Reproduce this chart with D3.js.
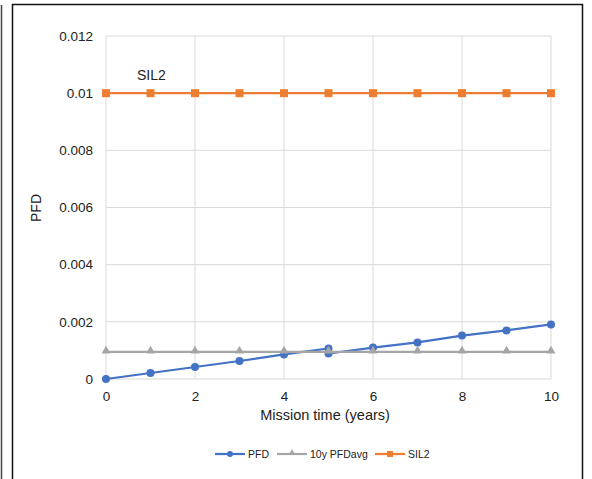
<!DOCTYPE html>
<html><head><meta charset="utf-8">
<script src="https://cdn.jsdelivr.net/npm/d3@7"></script>
<style>body{margin:0;background:#fff}svg{display:block;font-family:"Liberation Sans",Arial,sans-serif}</style>
</head><body><div id="chart"></div>
<script>
const pfdYears = [0,1,2,3,4,5,5,6,7,8,9,10];
const pfdValues = [0,0.00021,0.00042,0.00063,0.00086,0.00107,0.00089,0.0011,0.00128,0.00152,0.0017,0.00191];
const avgYears = [0,1,2,3,4,5,6,7,8,9,10];
const avgValues = [0.00095,0.00095,0.00095,0.00095,0.00095,0.00095,0.00095,0.00095,0.00095,0.00095,0.00095];
const silYears = [0,1,2,3,4,5,6,7,8,9,10];
const silValues = [0.01,0.01,0.01,0.01,0.01,0.01,0.01,0.01,0.01,0.01,0.01];
const xTicks = [0,2,4,6,8,10];
const yTicks = [0,0.002,0.004,0.006,0.008,0.01,0.012];
const seriesNames = ["PFD","10y PFDavg","SIL2"];
const colors = ["#4472C4","#A5A5A5","#ED7D31"];

const W=592,H=479;
const svg=d3.select("#chart").append("svg").attr("width",W).attr("height",H);
svg.append("line").attr("x1",1.5).attr("x2",1.5).attr("y1",5).attr("y2",H).attr("stroke","#444").attr("stroke-width",1.5);
svg.append("rect").attr("x",12.5).attr("y",4.5).attr("width",570).attr("height",H+10).attr("fill","none").attr("stroke","#111").attr("stroke-width",1.5);

const x=d3.scaleLinear().domain([0,10]).range([106,551]);
const y=d3.scaleLinear().domain([0,0.012]).range([379,36]);

const g=svg.append("g");
g.selectAll(".hg").data(yTicks).join("line").attr("x1",x(0)).attr("x2",x(10)).attr("y1",d=>y(d)).attr("y2",d=>y(d)).attr("stroke","#d9d9d9").attr("stroke-width",1);
g.selectAll(".vg").data(xTicks).join("line").attr("y1",y(0)).attr("y2",y(0.012)).attr("x1",d=>x(d)).attr("x2",d=>x(d)).attr("stroke","#d9d9d9").attr("stroke-width",1);

const yAxis=d3.axisLeft(y).tickValues(yTicks).tickSize(0).tickPadding(13).tickFormat(d=>d===0?"0":String(+d.toFixed(3)));
const ya=svg.append("g").attr("transform",`translate(${x(0)},0)`).call(yAxis);
ya.select(".domain").remove();
ya.selectAll("text").attr("font-size",13.5).attr("fill","#222").attr("font-family","Liberation Sans, Arial, sans-serif");
const xAxis=d3.axisBottom(x).tickValues(xTicks).tickSize(0).tickPadding(12);
const xa=svg.append("g").attr("transform",`translate(0,${y(0)})`).call(xAxis);
xa.select(".domain").remove();
xa.selectAll("text").attr("font-size",13.5).attr("fill","#222").attr("font-family","Liberation Sans, Arial, sans-serif");

svg.append("text").attr("x",325).attr("y",420).attr("text-anchor","middle").attr("font-size",14.5).attr("fill","#222").text("Mission time (years)");
svg.append("text").attr("transform","translate(41,208) rotate(-90)").attr("text-anchor","middle").attr("font-size",14).attr("fill","#222").text("PFD");
svg.append("text").attr("x",137).attr("y",80).attr("font-size",14).attr("fill","#222").text("SIL2");

const line=d3.line().x(d=>x(d[0])).y(d=>y(d[1]));
const pfd=pfdYears.map((v,i)=>[v,pfdValues[i]]);
const avg=avgYears.map((v,i)=>[v,avgValues[i]]);
const sil=silYears.map((v,i)=>[v,silValues[i]]);

svg.append("path").datum(pfd).attr("d",line).attr("fill","none").attr("stroke",colors[0]).attr("stroke-width",2.25);
svg.selectAll(".pm").data(pfd).join("circle").attr("cx",d=>x(d[0])).attr("cy",d=>y(d[1])).attr("r",4).attr("fill",colors[0]);

const tri=d3.symbol().type(d3.symbolTriangle).size(34);
svg.append("path").datum(avg).attr("d",line).attr("fill","none").attr("stroke",colors[1]).attr("stroke-width",2.25);
svg.selectAll(".am").data(avg).join("path").attr("d",tri).attr("transform",d=>`translate(${x(d[0])},${y(d[1])-1})`).attr("fill",colors[1]);

svg.append("path").datum(sil).attr("d",line).attr("fill","none").attr("stroke",colors[2]).attr("stroke-width",2.25);
svg.selectAll(".sm").data(sil).join("rect").attr("x",d=>x(d[0])-4).attr("y",d=>y(d[1])-4).attr("width",8).attr("height",8).attr("fill",colors[2]);

const lg=svg.append("g");
const lx=[215,277,375];
seriesNames.forEach((n,i)=>{
  const ly=454;
  lg.append("line").attr("x1",lx[i]).attr("x2",lx[i]+30).attr("y1",ly).attr("y2",ly).attr("stroke",colors[i]).attr("stroke-width",2.25);
  if(i===0) lg.append("circle").attr("cx",lx[i]+15).attr("cy",ly).attr("r",3).attr("fill",colors[i]);
  if(i===1) lg.append("path").attr("d",d3.symbol().type(d3.symbolTriangle).size(20)).attr("transform",`translate(${lx[i]+15},${ly-1})`).attr("fill",colors[i]);
  if(i===2) lg.append("rect").attr("x",lx[i]+12).attr("y",ly-3).attr("width",6).attr("height",6).attr("fill",colors[i]);
  lg.append("text").attr("x",lx[i]+33).attr("y",ly+4).attr("font-size",10.5).attr("fill","#222").text(n);
});
</script></body></html>
